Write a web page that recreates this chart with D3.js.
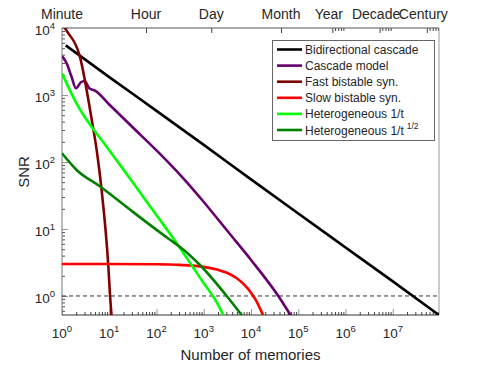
<!DOCTYPE html>
<html>
<head>
<meta charset="utf-8">
<script src="https://cdn.jsdelivr.net/npm/d3@7"></script>
<style>
  body { margin: 0; background: #fff; }
  text { font-family: "Liberation Sans", Arial, Helvetica, sans-serif; fill: #262626; }
</style>
</head>
<body>
<div id="chart"></div>
<script>
// tick values
const xMajor = [1, 10, 100, 1e3, 1e4, 1e5, 1e6, 1e7];
const yMajor = [1, 10, 100, 1e3, 1e4];
const timeLabels = ["Minute", "Hour", "Day", "Month", "Year", "Decade", "Century"];
const timeMemories = [1, 60, 1440, 43200, 525600, 5256000, 52560000];

// series: [number of memories, SNR]
const bidirectional = [[1.2, 5500], [10, 1850], [100, 580], [1e3, 180], [1e4, 55], [1e5, 17], [1e6, 5.3], [1e7, 1.65], [9.5e7, 0.52]];
const cascade = [[1, 3800], [1.26, 2950], [1.58, 1900], [1.98, 1260], [2.51, 1550], [3.02, 1620], [3.78, 1260], [5, 1160],
  [10, 720], [31.6, 327], [100, 149], [369, 57], [1000, 25.3], [3300, 9.0], [10000, 3.45], [37800, 1.0], [70800, 0.5]];
const fastBistable = [[1, 12000], [1.15, 10000], [2.4, 3700], [4.25, 430], [5.42, 150], [6.37, 62], [6.92, 37], [9.55, 2.8], [10.4, 1.0], [11.2, 0.5]];
const slowBistable = [[1, 3], [10, 3], [100, 2.97], [300, 2.91], [1000, 2.72], [2000, 2.46], [3000, 2.24], [5000, 1.84],
  [7000, 1.5], [10000, 1.12], [13000, 0.84], [16000, 0.62], [19000, 0.47]];
const hetero1 = [[1, 2100], [2, 760], [10, 150], [30, 52], [100, 16], [200, 8.2], [550, 2.9], [1000, 1.55], [1600, 0.97], [2000, 0.74], [2650, 0.5]];
const heteroHalf = [[1, 135], [2.04, 76], [6.4, 43], [31.6, 18], [193, 6.9], [314, 5.4], [832, 2.9], [3055, 1.0], [6600, 0.5]];

const seriesNames = ["Bidirectional cascade", "Cascade model", "Fast bistable syn.", "Slow bistable syn.", "Heterogeneous 1/t", "Heterogeneous 1/t"];
const seriesColors = ["#000000", "#66006e", "#800000", "#ff0000", "#00ff00", "#008000"];
const seriesData = [bidirectional, cascade, fastBistable, slowBistable, hetero1, heteroHalf];

const width = 485, height = 368;
const margin = { top: 28, right: 46, bottom: 53, left: 62 };

const svg = d3.select("#chart").append("svg")
  .attr("width", width)
  .attr("height", height);

const x = d3.scaleLog()
  .domain([1, 9.5e7])
  .range([margin.left, width - margin.right]);

const y = d3.scaleLog()
  .domain([0.52, 1e4])
  .range([height - margin.bottom, margin.top]);

const x0 = margin.left, x1 = width - margin.right;
const y0 = height - margin.bottom, y1 = margin.top;

svg.append("clipPath").attr("id", "clip")
  .append("rect")
  .attr("x", x0).attr("y", y1)
  .attr("width", x1 - x0).attr("height", y0 - y1);

// minor ticks, 2..9 per decade
const minorTicks = (lo, hi) => {
  const out = [];
  for (let e = Math.floor(Math.log10(lo)); e <= Math.ceil(Math.log10(hi)); e++) {
    for (let k = 2; k <= 9; k++) {
      const v = k * Math.pow(10, e);
      if (v >= lo && v <= hi) out.push(v);
    }
  }
  return out;
};

// bottom axis
svg.append("g")
  .attr("transform", `translate(0,${y0})`)
  .call(d3.axisBottom(x).tickValues(minorTicks(1, 9.5e7)).tickSize(-3).tickFormat(""))
  .call(g => g.select(".domain").remove())
  .call(g => g.selectAll("line").attr("stroke", "#444"));
svg.append("g")
  .attr("transform", `translate(0,${y0})`)
  .call(d3.axisBottom(x).tickValues(xMajor).tickSize(-6).tickFormat(""))
  .call(g => g.select(".domain").remove())
  .call(g => g.selectAll("line").attr("stroke", "#999"));

// left axis
svg.append("g")
  .attr("transform", `translate(${x0},0)`)
  .call(d3.axisLeft(y).tickValues(minorTicks(0.52, 1e4)).tickSize(-3).tickFormat(""))
  .call(g => g.select(".domain").remove())
  .call(g => g.selectAll("line").attr("stroke", "#555"));
svg.append("g")
  .attr("transform", `translate(${x0},0)`)
  .call(d3.axisLeft(y).tickValues(yMajor).tickSize(-6).tickFormat(""))
  .call(g => g.select(".domain").remove())
  .call(g => g.selectAll("line").attr("stroke", "#999"));

// top axis (time)
svg.append("g")
  .attr("transform", `translate(0,${y1})`)
  .call(d3.axisTop(x).tickValues(timeMemories.slice(1)).tickSize(-5).tickFormat(""))
  .call(g => g.select(".domain").remove())
  .call(g => g.selectAll("line").attr("stroke", "#444"));
const topMinor = [];
[5e5, 5e6, 5e7].forEach(b => [6, 7, 8, 9].forEach(k => topMinor.push(k * b / 5)));
svg.append("g")
  .attr("transform", `translate(0,${y1})`)
  .call(d3.axisTop(x).tickValues(topMinor).tickSize(-3).tickFormat(""))
  .call(g => g.select(".domain").remove())
  .call(g => g.selectAll("line").attr("stroke", "#444"));

svg.append("g").selectAll("text")
  .data(timeLabels)
  .enter().append("text")
  .attr("x", (d, i) => x(timeMemories[i]) - (i >= 4 ? 3.5 : 0))
  .attr("y", 19)
  .attr("text-anchor", "middle")
  .style("font-size", "14px")
  .text(d => d);

// frame
svg.append("line").attr("x1", x0).attr("x2", x1).attr("y1", y0).attr("y2", y0).attr("stroke", "#333");
svg.append("line").attr("x1", x0).attr("x2", x0).attr("y1", y0).attr("y2", y1).attr("stroke", "#777");
svg.append("line").attr("x1", x0).attr("x2", x1).attr("y1", y1).attr("y2", y1).attr("stroke", "#555");
svg.append("line").attr("x1", x1).attr("x2", x1).attr("y1", y0).attr("y2", y1).attr("stroke", "#999");

// tick labels
const xLab = svg.append("g").selectAll("text")
  .data(xMajor)
  .enter().append("text")
  .attr("x", d => x(d))
  .attr("y", 338)
  .attr("text-anchor", "middle")
  .style("font-size", "13.5px");
xLab.append("tspan").text("10");
xLab.append("tspan").attr("dy", -6).style("font-size", "9.5px").text(d => Math.round(Math.log10(d)));

const yLab = svg.append("g").selectAll("text")
  .data(yMajor)
  .enter().append("text")
  .attr("x", 55)
  .attr("y", d => y(d) + 7)
  .attr("text-anchor", "end")
  .style("font-size", "13.5px");
yLab.append("tspan").text("10");
yLab.append("tspan").attr("dy", -6).style("font-size", "9.5px").text(d => Math.round(Math.log10(d)));

// axis titles
svg.append("text")
  .attr("x", (x0 + x1) / 2)
  .attr("y", 360)
  .attr("text-anchor", "middle")
  .style("font-size", "15px")
  .text("Number of memories");
svg.append("text")
  .attr("transform", "translate(29,172) rotate(-90)")
  .attr("text-anchor", "middle")
  .style("font-size", "15px")
  .text("SNR");

// SNR = 1 reference
svg.append("line")
  .attr("x1", x0).attr("x2", x1)
  .attr("y1", y(1)).attr("y2", y(1))
  .attr("stroke", "#333")
  .attr("stroke-dasharray", "4,3");

// curves
const line = d3.line()
  .x(d => x(d[0]))
  .y(d => y(d[1]))
  .curve(d3.curveMonotoneX);

svg.append("g").attr("clip-path", "url(#clip)")
  .selectAll("path")
  .data(seriesData)
  .enter().append("path")
  .attr("fill", "none")
  .attr("stroke", (d, i) => seriesColors[i])
  .attr("stroke-width", 2.6)
  .attr("stroke-linejoin", "round")
  .attr("d", line);

// legend
const legend = svg.append("g");
legend.append("rect")
  .attr("x", 272.5).attr("y", 40.5)
  .attr("width", 162).attr("height", 100)
  .attr("fill", "#fff")
  .attr("stroke", "#666");

const rows = legend.selectAll("g.row")
  .data(seriesNames)
  .enter().append("g")
  .attr("class", "row")
  .attr("transform", (d, i) => `translate(0,${49.5 + i * 16.1})`);
rows.append("line")
  .attr("x1", 277).attr("x2", 302)
  .attr("stroke", (d, i) => seriesColors[i])
  .attr("stroke-width", 2.6);
const rowText = rows.append("text")
  .attr("x", 305)
  .attr("y", 4.5)
  .style("font-size", "12px");
rowText.append("tspan").text(d => d);
rowText.filter((d, i) => i === 5)
  .append("tspan").attr("dy", -6).attr("dx", 3).style("font-size", "8.5px").text("1/2");
</script>
</body>
</html>
